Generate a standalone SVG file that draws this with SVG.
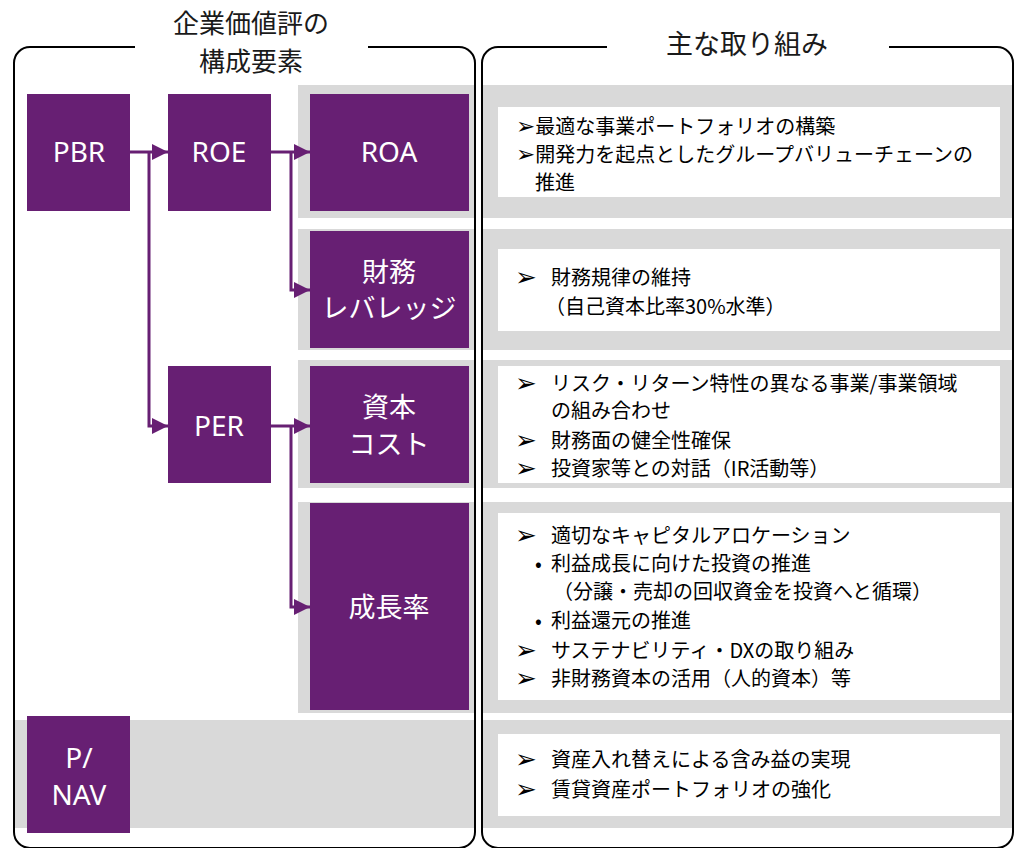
<svg xmlns="http://www.w3.org/2000/svg" width="1022" height="848" viewBox="0 0 1022 848">
<style>
.bg{fill:#ffffff}
.band{fill:#d9d9d9}
.node{fill:#671f73}
.wbox{fill:#ffffff}
.frame{fill:none;stroke:#000000;stroke-width:2}
.conn{fill:none;stroke:#671f73;stroke-width:3}
.ttl{font-family:"Noto Sans CJK JP","Noto Sans",sans-serif;font-size:27px;fill:#1a1a1a;text-anchor:middle}
.nl{font-family:"Noto Sans","Noto Sans CJK JP",sans-serif;font-size:28px;fill:#ffffff;text-anchor:middle}
.nj{font-family:"Noto Sans CJK JP","Noto Sans",sans-serif;font-size:27px;fill:#ffffff;text-anchor:middle}
.t{font-family:"Noto Sans CJK JP","Noto Sans",sans-serif;font-size:20px;fill:#000000}
.ar{font-family:"DejaVu Sans",sans-serif;font-size:26px;fill:#000000}
.ar1{font-family:"DejaVu Sans",sans-serif;font-size:23px}
</style>
<defs>
<marker id="ah" markerUnits="userSpaceOnUse" markerWidth="16" markerHeight="16" viewBox="0 0 16 16" refX="16" refY="8" orient="auto">
<path d="M0,0 L16,8 L0,16 z" fill="#671f73"/>
</marker>
</defs>
<rect class="bg" x="0" y="0" width="1022" height="848"/>

<g id="bands">
<rect class="band" x="298" y="85" width="177" height="133"/>
<rect class="band" x="482" y="85" width="531" height="133"/>
<rect class="band" x="298" y="229" width="177" height="121"/>
<rect class="band" x="482" y="229" width="531" height="121"/>
<rect class="band" x="298" y="360" width="177" height="128"/>
<rect class="band" x="482" y="360" width="531" height="128"/>
<rect class="band" x="298" y="502" width="177" height="211"/>
<rect class="band" x="482" y="502" width="531" height="211"/>
<rect class="band" x="14" y="720" width="461" height="108"/>
<rect class="band" x="482" y="720" width="531" height="108"/>
</g>

<g id="frames">
<path class="frame" d="M135,47 H30 A16,16 0 0 0 14,63 V832 A16,16 0 0 0 30,848 H459 A16,16 0 0 0 475,832 V63 A16,16 0 0 0 459,47 H368"/>
<path class="frame" d="M607,47 H498 A16,16 0 0 0 482,63 V832 A16,16 0 0 0 498,848 H997 A16,16 0 0 0 1013,832 V63 A16,16 0 0 0 997,47 H889"/>
<text class="ttl" style="font-size:26px"><tspan x="251" y="33">企業価値評の</tspan><tspan x="251" y="71">構成要素</tspan></text>
<text class="ttl" x="747" y="54">主な取り組み</text>
</g>

<g id="connectors">
<path class="conn" d="M130,152 H168" marker-end="url(#ah)"/>
<path class="conn" d="M149,152 V426 H168" marker-end="url(#ah)"/>
<path class="conn" d="M271,152 H310" marker-end="url(#ah)"/>
<path class="conn" d="M291,152 V290 H310" marker-end="url(#ah)"/>
<path class="conn" d="M271,426 H310" marker-end="url(#ah)"/>
<path class="conn" d="M291,426 V607 H310" marker-end="url(#ah)"/>
</g>

<g id="node-pbr">
<rect class="node" x="27" y="94" width="103" height="117"/>
<text class="nl" x="79" y="162">PBR</text>
</g>
<g id="node-roe">
<rect class="node" x="168" y="94" width="103" height="117"/>
<text class="nl" x="219" y="162">ROE</text>
</g>
<g id="node-roa">
<rect class="node" x="310" y="94" width="159" height="117"/>
<text class="nl" x="389" y="162">ROA</text>
</g>
<g id="node-leverage">
<rect class="node" x="310" y="231" width="159" height="117"/>
<text class="nj" x="389" y="282">財務</text>
<text class="nj" x="389" y="318">レバレッジ</text>
</g>
<g id="node-per">
<rect class="node" x="168" y="366" width="103" height="117"/>
<text class="nl" x="219" y="436">PER</text>
</g>
<g id="node-coc">
<rect class="node" x="310" y="366" width="159" height="117"/>
<text class="nj" x="389" y="417">資本</text>
<text class="nj" x="389" y="454">コスト</text>
</g>
<g id="node-growth">
<rect class="node" x="310" y="503" width="159" height="207"/>
<text class="nj" x="389" y="617">成長率</text>
</g>
<g id="node-pnav">
<rect class="node" x="27" y="716" width="103" height="117"/>
<text class="nl" x="79" y="768">P/</text>
<text class="nl" x="79" y="805">NAV</text>
</g>

<g id="box-roa">
<rect class="wbox" x="498" y="107" width="502" height="90"/>
<text class="t" x="516" y="134"><tspan class="ar1">➢</tspan>最適な事業ポートフォリオの構築</text>
<text class="t" x="516" y="162"><tspan class="ar1">➢</tspan>開発力を起点としたグループバリューチェーンの</text>
<text class="t" x="535" y="190">推進</text>
</g>
<g id="box-leverage">
<rect class="wbox" x="498" y="249" width="502" height="82"/>
<text class="ar" x="515" y="286">➢</text>
<text class="t" x="551" y="285">財務規律の維持</text>
<text class="t" x="545" y="314">（自己資本比率30%水準）</text>
</g>
<g id="box-coc">
<rect class="wbox" x="498" y="366" width="502" height="117"/>
<text class="ar" x="515" y="392">➢</text>
<text class="t" x="551" y="391">リスク・リターン特性の異なる事業/事業領域</text>
<text class="t" x="551" y="418">の組み合わせ</text>
<text class="ar" x="515" y="449">➢</text>
<text class="t" x="551" y="448">財務面の健全性確保</text>
<text class="ar" x="515" y="477">➢</text>
<text class="t" x="551" y="476">投資家等との対話（IR活動等）</text>
</g>
<g id="box-growth">
<rect class="wbox" x="498" y="513" width="502" height="187"/>
<text class="ar" x="515" y="544">➢</text>
<text class="t" x="551" y="543">適切なキャピタルアロケーション</text>
<text class="t" x="535" y="571">•</text>
<text class="t" x="551" y="571">利益成長に向けた投資の推進</text>
<text class="t" x="553" y="599">（分譲・売却の回収資金を投資へと循環）</text>
<text class="t" x="535" y="628">•</text>
<text class="t" x="551" y="628">利益還元の推進</text>
<text class="ar" x="515" y="659">➢</text>
<text class="t" x="551" y="658">サステナビリティ・DXの取り組み</text>
<text class="ar" x="515" y="687">➢</text>
<text class="t" x="551" y="686">非財務資本の活用（人的資本）等</text>
</g>
<g id="box-pnav">
<rect class="wbox" x="498" y="734" width="502" height="82"/>
<text class="ar" x="515" y="768">➢</text>
<text class="t" x="551" y="767">資産入れ替えによる含み益の実現</text>
<text class="ar" x="515" y="798">➢</text>
<text class="t" x="551" y="797">賃貸資産ポートフォリオの強化</text>
</g>
</svg>
